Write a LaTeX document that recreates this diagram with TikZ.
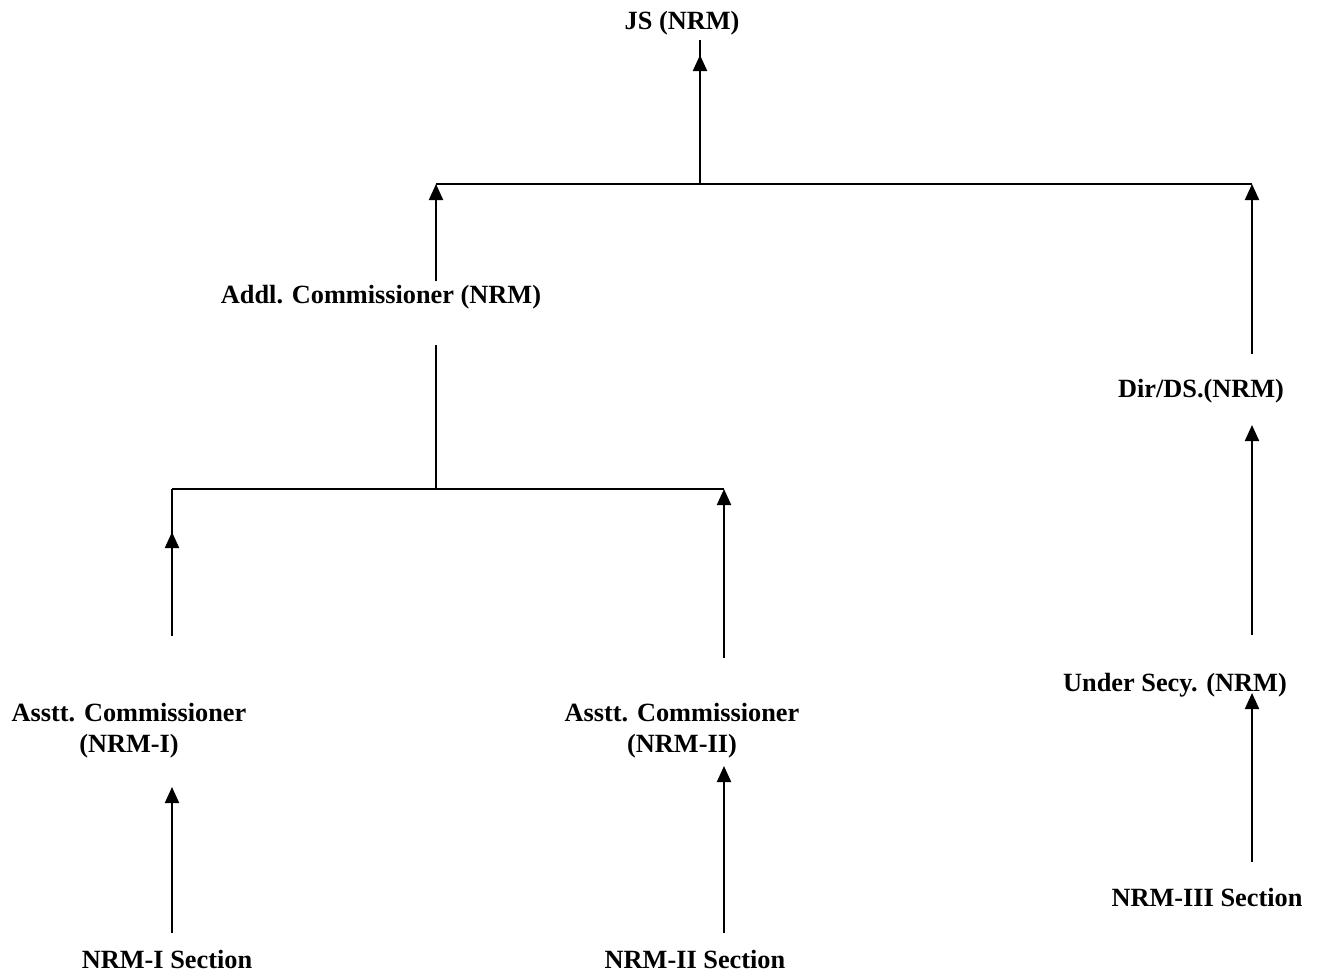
\documentclass[tikz,border=0pt]{standalone}
\usepackage{fontspec}
\setmainfont{Liberation Serif}
\usetikzlibrary{arrows.meta}
\tikzset{
  post/.style={font=\fontsize{12}{14.2}\selectfont\bfseries, anchor=base, align=center, inner sep=0pt},
  up/.style={-{Triangle[length=7.3pt,width=6.4pt]}}
}
\begin{document}
\begin{tikzpicture}[x=0.456pt,y=-0.456pt,line width=0.9pt]
\useasboundingbox (0,0) rectangle (1320,974);
% posts
\node[post] (js) at (682,29) {JS (NRM)};
\node[post] (addl) at (381,303) {Addl. Commissioner (NRM)};
\node[post] (dir) at (1201,397) {Dir/DS.(NRM)};
\node[post] (under) at (1175,691) {Under Secy. (NRM)};
\node[post] (sec3) at (1207,906) {NRM-III Section};
\node[post,anchor=center] (acone) at (129,731) {Asstt. Commissioner\\(NRM-I)};
\node[post,anchor=center] (actwo) at (682,731) {Asstt. Commissioner\\(NRM-II)};
\node[post] (sec1) at (167,968) {NRM-I Section};
\node[post] (sec2) at (695,968) {NRM-II Section};
% line ends
\coordinate (jsfoot) at (700,40);
\coordinate (jstip) at (700,55);
\coordinate (topmid) at (700,184);
\coordinate (topleft) at (436,184);
\coordinate (topright) at (1252,184);
\coordinate (addlup) at (436,281);
\coordinate (addldown) at (436,345);
\coordinate (midjoin) at (436,489);
\coordinate (lowleft) at (172,489);
\coordinate (lowright) at (724,489);
\coordinate (aconeup) at (172,636);
\coordinate (aconetip) at (172,532);
\coordinate (actwoup) at (724,658);
\coordinate (dirup) at (1252,354);
\coordinate (dirtip) at (1252,425);
\coordinate (underup) at (1252,635);
\coordinate (undertip) at (1252,693);
\coordinate (sec1up) at (172,933);
\coordinate (sec1tip) at (172,787);
\coordinate (sec2up) at (724,933);
\coordinate (sec2tip) at (724,766);
\coordinate (sec3up) at (1252,862);
% upper level
\draw (topmid) -- (jsfoot);
\draw[up] (topmid) -- (jstip);
\draw (topleft) -- (topright);
\draw[up] (addlup) -- (topleft);
\draw[up] (dirup) -- (topright);
% lower level
\draw (addldown) -- (midjoin);
\draw (lowleft) -- (lowright);
\draw (lowleft) -- (aconeup);
\draw[up] (aconeup) -- (aconetip);
\draw[up] (actwoup) -- (lowright);
\draw[up] (underup) -- (dirtip);
% sections
\draw[up] (sec1up) -- (sec1tip);
\draw[up] (sec2up) -- (sec2tip);
\draw[up] (sec3up) -- (undertip);
\end{tikzpicture}
\end{document}
